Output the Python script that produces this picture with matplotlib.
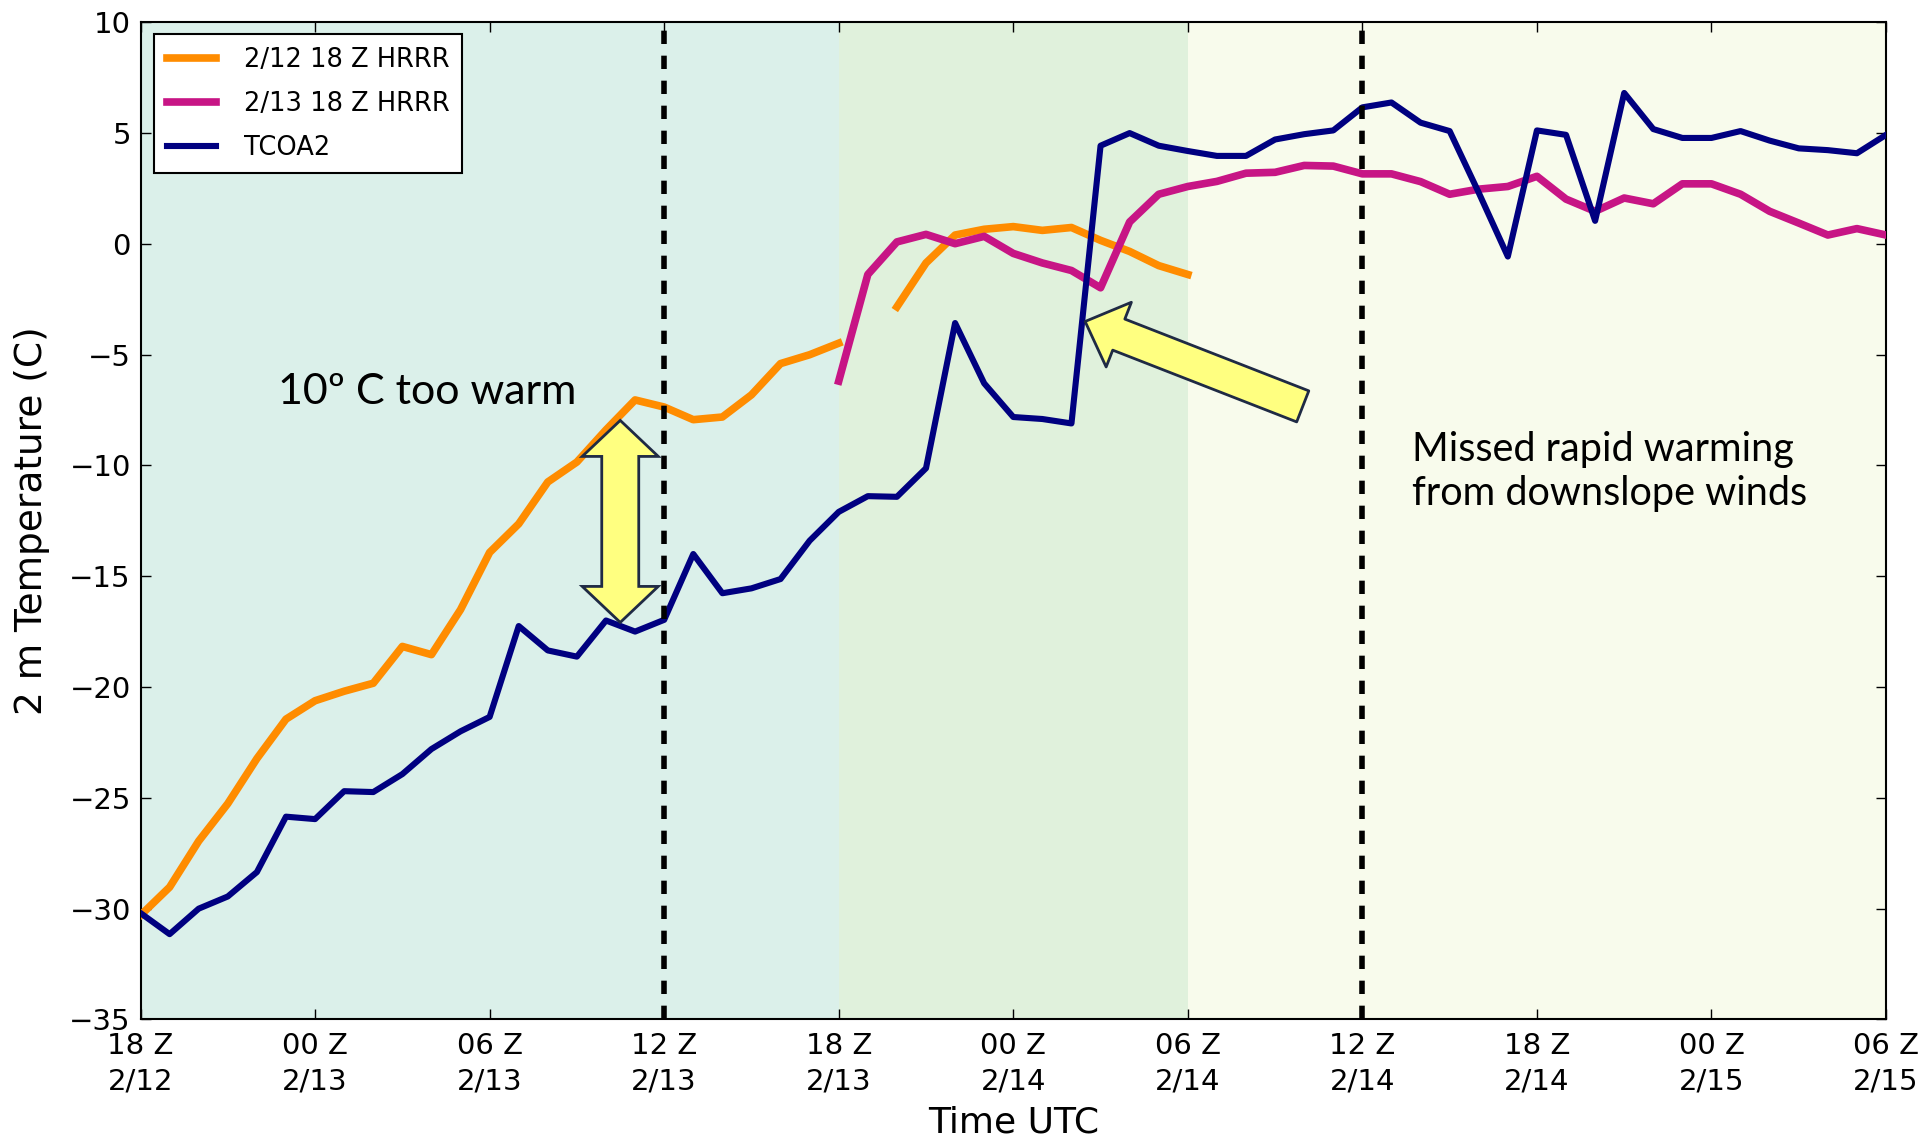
import matplotlib
matplotlib.use("Agg")
import matplotlib.pyplot as plt
import matplotlib.transforms as mtransforms
from matplotlib.patches import Polygon, FancyArrowPatch
import numpy as np

nan = np.nan

# hours since 18 Z 2/12
hours = list(range(61))

tcoa2 = [-30.2, -31.15, -30.0, -29.45, -28.35, -25.85, -25.96, -24.7, -24.74, -23.93,
         -22.8, -22.0, -21.35, -17.25, -18.35, -18.63, -17.0, -17.5, -16.97, -14.0,
         -15.77, -15.55, -15.13, -13.4, -12.1, -11.39, -11.42, -10.13, -3.58, -6.3,
         -7.82, -7.91, -8.11, 4.42, 4.99, 4.42, 4.18, 3.96, 3.96, 4.7,
         4.94, 5.11, 6.15, 6.37, 5.46, 5.08, 2.3, -0.58, 5.11, 4.91,
         1.03, 6.8, 5.17, 4.77, 4.77, 5.08, 4.65, 4.3, 4.22, 4.08, 4.91]

hrrr_12_hours = list(range(37))
hrrr_12 = [-30.3, -29.03, -26.95, -25.26, -23.23, -21.45, -20.62, -20.19, -19.83, -18.17,
           -18.54, -16.51, -13.93, -12.64, -10.75, -9.85, -8.4, -7.05, -7.37, -7.94,
           -7.82, -6.82, -5.41, -5.01, -4.49, nan, -2.85, -0.87, 0.39, 0.65,
           0.77, 0.6, 0.73, 0.15, -0.35, -0.99, -1.39]

hrrr_13_hours = list(range(24, 61))
hrrr_13 = [-6.2, -1.39, 0.08, 0.42, 0.0, 0.33, -0.44, -0.87, -1.21, -1.99,
           0.98, 2.23, 2.58, 2.81, 3.18, 3.22, 3.53, 3.5, 3.15, 3.15,
           2.8, 2.23, 2.46, 2.58, 3.04, 2.01, 1.46, 2.06, 1.8, 2.7,
           2.7, 2.23, 1.46, 0.93, 0.39, 0.68, 0.39]

tick_hours = list(range(0, 61, 6))
tick_labels = ["18 Z\n2/12", "00 Z\n2/13", "06 Z\n2/13", "12 Z\n2/13", "18 Z\n2/13",
               "00 Z\n2/14", "06 Z\n2/14", "12 Z\n2/14", "18 Z\n2/14", "00 Z\n2/15",
               "06 Z\n2/15"]

# shaded periods (start hour, end hour, colour)
periods = [(0, 24, "#dbf0ea"), (24, 36, "#e0f1dc"), (36, 60, "#f8fbec")]
init_lines = [18, 42]

plt.rcParams['font.family'] = 'DejaVu Sans'
plt.rcParams['font.size'] = 20
plt.rcParams['axes.unicode_minus'] = True

fig = plt.figure(figsize=(19.33, 11.41), dpi=100)
ax = fig.add_axes([0.0727, 0.1065, 0.903, 0.8742])

for start, end, col in periods:
    ax.axvspan(start, end, color=col, lw=0, zorder=0)

ax.plot(hrrr_12_hours, hrrr_12, color='#ff8c00', lw=5.5, label='2/12 18 Z HRRR', zorder=3)
ax.plot(hrrr_13_hours, hrrr_13, color='#c71585', lw=5.5, label='2/13 18 Z HRRR', zorder=3)
ax.plot(hours, tcoa2, color='#000080', lw=4.4, label='TCOA2', zorder=3)

for h in init_lines:
    ax.axvline(h, color='black', lw=4, linestyle=(0, (2.4, 2.1)), zorder=4)

ax.set_xlim(0, 60)
ax.set_ylim(-35, 10)
ax.set_xticks(tick_hours)
ax.set_xticklabels(tick_labels, linespacing=1.35)
ax.set_yticks(range(-35, 11, 5))
ax.tick_params(direction='in', length=7, width=1, top=True, right=True, labelsize=21)
ax.tick_params(axis='x', pad=9)
ax.tick_params(axis='y', pad=7)
for s in ax.spines.values():
    s.set_linewidth(1.5)
ax.set_xlabel('Time UTC', fontsize=26, labelpad=7)
ax.set_ylabel('2 m Temperature (C)', fontsize=27, labelpad=14)

leg = ax.legend(loc='upper left', bbox_to_anchor=(0.0077, 0.9883), borderaxespad=0,
                fontsize=18.5, handlelength=1.9, handletextpad=1.1, labelspacing=0.7,
                fancybox=False, framealpha=1, edgecolor='black', borderpad=0.5)
leg.get_frame().set_linewidth(1.5)

# double-headed arrow (inches around a data point)
arrow_fill = '#ffff80'
arrow_edge = '#1f2a44'
hl, hw, bw, L = 0.36, 0.38, 0.185, 1.01
verts = [(0, L), (hw, L - hl), (bw, L - hl), (bw, -L + hl), (hw, -L + hl), (0, -L),
         (-hw, -L + hl), (-bw, -L + hl), (-bw, L - hl), (-hw, L - hl)]
trans = fig.dpi_scale_trans + mtransforms.ScaledTranslation(16.49, -12.53, ax.transData)
ax.add_patch(Polygon(verts, closed=True, facecolor=arrow_fill, edgecolor=arrow_edge,
                     lw=2, transform=trans, zorder=5, clip_on=False))

arr = FancyArrowPatch((39.95, -7.34), (32.47, -3.51),
                      arrowstyle='simple,head_length=26,head_width=50,tail_width=24',
                      mutation_scale=1, shrinkA=0, shrinkB=0,
                      facecolor=arrow_fill, edgecolor=arrow_edge, lw=2, zorder=5)
ax.add_patch(arr)

ax.text(4.72, -7.25, '10º C too warm', fontsize=31, family='Lato', ha='left', va='baseline', zorder=6)
ax.text(43.7, -11.81, 'Missed rapid warming\nfrom downslope winds', fontsize=28.5, family='Lato',
        ha='left', va='baseline', linespacing=1.26, zorder=6)

fig.savefig('out.png', dpi=100)
